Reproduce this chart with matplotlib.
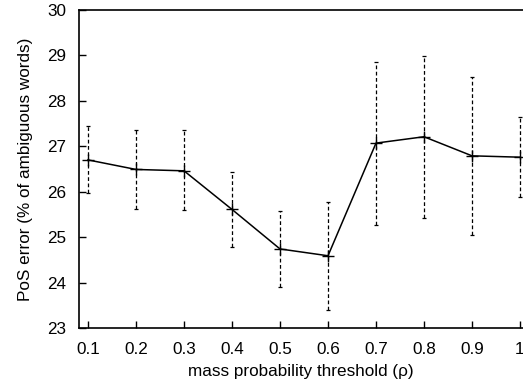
import matplotlib
matplotlib.use("Agg")
import matplotlib.pyplot as plt

thresholds = [0.1, 0.2, 0.3, 0.4, 0.5, 0.6, 0.7, 0.8, 0.9, 1.0]
pos_error = [26.70, 26.49, 26.46, 25.61, 24.74, 24.59, 27.07, 27.21, 26.79, 26.76]
err_upper = [27.45, 27.35, 27.35, 26.44, 25.57, 25.78, 28.86, 28.99, 28.53, 27.64]
err_lower = [25.98, 25.62, 25.60, 24.79, 23.91, 23.40, 25.27, 25.43, 25.05, 25.89]
xtick_labels = ["0.1", "0.2", "0.3", "0.4", "0.5", "0.6", "0.7", "0.8", "0.9", "1"]
yticks = [23, 24, 25, 26, 27, 28, 29, 30]

plt.rcParams['font.family'] = ['Liberation Sans', 'DejaVu Sans']

W, H = 523, 383
fig = plt.figure(figsize=(W / 100, H / 100), dpi=100)
left, right, top, bottom = 79, 523, 10, 328
ax = fig.add_axes([left / W, 1 - bottom / H, (right - left) / W, (bottom - top) / H])

yerr = [[p - l for p, l in zip(pos_error, err_lower)],
        [u - p for p, u in zip(pos_error, err_upper)]]

# error bars (dashed)
eb = ax.errorbar(thresholds, pos_error, yerr=yerr, fmt='none', ecolor='black',
                 elinewidth=0.9, capsize=1.5, capthick=0.9)
for lc in eb[2]:
    lc.set_linestyle((0, (3, 2)))

ax.plot(thresholds, pos_error, color='black', lw=1.1, marker='+', ms=8, mew=1.0)

ax.set_xlim(0.08125, 1.00625)
ax.set_ylim(23, 30)
ax.set_xticks(thresholds)
ax.set_xticklabels(xtick_labels)
ax.set_yticks(yticks)
ax.tick_params(direction='in', length=5, width=1.0, labelsize=12.3,
               top=False, right=False)
ax.tick_params(axis='y', pad=9)
ax.tick_params(axis='x', pad=10)
ax.spines['right'].set_visible(False)
for s in ['left', 'bottom', 'top']:
    ax.spines[s].set_linewidth(1.2)

ax.set_xlabel('mass probability threshold (ρ)', fontsize=12.3, labelpad=5)
ax.set_ylabel('PoS error (% of ambiguous words)', fontsize=12.3, labelpad=10)

fig.savefig('out.png', dpi=100)
